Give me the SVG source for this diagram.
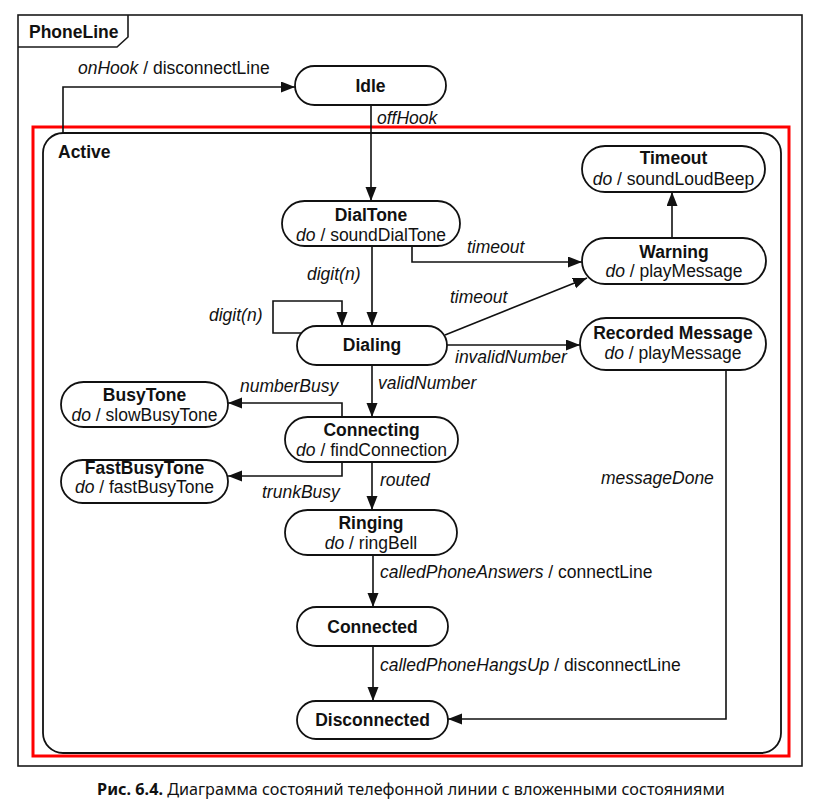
<svg xmlns="http://www.w3.org/2000/svg" width="813" height="811" viewBox="0 0 813 811">
  <style>
    .frame { fill: none; stroke: #1a1a1a; stroke-width: 1.6; }
    .hl { fill: none; stroke: #ff0000; stroke-width: 3; }
    .state { fill: #ffffff; stroke: #111111; stroke-width: 1.8; }
    .conn { fill: none; stroke: #111111; stroke-width: 1.6; }
    text { font-family: "Liberation Sans", Arial, sans-serif; font-size: 17.5px; fill: #111111; }
    .name { font-weight: bold; text-anchor: middle; }
    .act { text-anchor: middle; }
    .lbl { font-style: italic; }
    .caption { font-family: "Noto Sans", "DejaVu Sans", sans-serif; font-size: 16.2px; text-anchor: middle; }
  </style>
  <defs>
    <marker id="arrow" markerUnits="userSpaceOnUse" markerWidth="15" markerHeight="12" refX="14" refY="5.5" orient="auto">
      <path d="M0,0 L14,5.5 L0,11 z" fill="#111111"/>
    </marker>
  </defs>

  <rect width="813" height="811" fill="#ffffff"/>

  <!-- outer state machine frame with name tab -->
  <g id="phoneline">
    <rect class="frame" x="18" y="15" width="784" height="751"/>
    <path class="frame" d="M18,47 L117,47 L128,37 L128,15"/>
    <text x="29" y="38" style="font-weight:bold">PhoneLine</text>
  </g>

  <!-- highlight around the composite state -->
  <rect class="hl" x="33" y="127" width="756" height="629"/>

  <!-- composite state -->
  <g id="active">
    <rect class="state" x="43" y="133" width="738" height="620" rx="20" ry="20"/>
    <text x="58" y="158" style="font-weight:bold">Active</text>
  </g>

  <!-- connectors -->
  <g id="connectors">
    <path class="conn" d="M63,133 L63,87 L295,87" marker-end="url(#arrow)"/>
    <text class="lbl" x="78" y="74">onHook<tspan style="font-style:normal"> / disconnectLine</tspan></text>

    <path class="conn" d="M371,105 L371,201" marker-end="url(#arrow)"/>
    <text class="lbl" x="377" y="124">offHook</text>

    <path class="conn" d="M372,246 L372,326" marker-end="url(#arrow)"/>
    <text class="lbl" x="307" y="280">digit(n)</text>

    <path class="conn" d="M302,333 L273,333 L273,301 L342,301 L342,326" marker-end="url(#arrow)"/>
    <text class="lbl" x="209" y="321">digit(n)</text>

    <path class="conn" d="M412,246 L412,262 L582,262" marker-end="url(#arrow)"/>
    <text class="lbl" x="467" y="253">timeout</text>

    <path class="conn" d="M445,335 L587,278" marker-end="url(#arrow)"/>
    <text class="lbl" x="450" y="303">timeout</text>

    <path class="conn" d="M446,345 L580,345" marker-end="url(#arrow)"/>
    <text class="lbl" x="455" y="363">invalidNumber</text>

    <path class="conn" d="M672,238 L672,192" marker-end="url(#arrow)"/>

    <path class="conn" d="M372,365 L372,417" marker-end="url(#arrow)"/>
    <text class="lbl" x="378" y="389">validNumber</text>

    <path class="conn" d="M342,417 L342,403 L228,403" marker-end="url(#arrow)"/>
    <text class="lbl" x="240" y="392">numberBusy</text>

    <path class="conn" d="M342,462 L342,476 L228,476" marker-end="url(#arrow)"/>
    <text class="lbl" x="262" y="498">trunkBusy</text>

    <path class="conn" d="M372,462 L372,510" marker-end="url(#arrow)"/>
    <text class="lbl" x="380" y="486">routed</text>

    <path class="conn" d="M373,555 L373,607" marker-end="url(#arrow)"/>
    <text class="lbl" x="380" y="578">calledPhoneAnswers<tspan style="font-style:normal"> / connectLine</tspan></text>

    <path class="conn" d="M373,646 L373,701" marker-end="url(#arrow)"/>
    <text class="lbl" x="380" y="671">calledPhoneHangsUp<tspan style="font-style:normal"> / disconnectLine</tspan></text>

    <path class="conn" d="M726,370 L726,719 L448,719" marker-end="url(#arrow)"/>
    <text class="lbl" x="601" y="484">messageDone</text>
  </g>

  <!-- states -->
  <g id="idle">
    <rect class="state" x="295" y="66" width="151" height="39" rx="19.5"/>
    <text class="name" x="370.5" y="92">Idle</text>
  </g>

  <g id="dialtone">
    <rect class="state" x="282" y="201" width="178" height="45" rx="22.5"/>
    <text class="name" x="371" y="221">DialTone</text>
    <text class="act" x="371" y="241"><tspan style="font-style:italic">do</tspan> / soundDialTone</text>
  </g>

  <g id="timeout">
    <rect class="state" x="582" y="146" width="183" height="46" rx="23"/>
    <text class="name" x="673.5" y="164">Timeout</text>
    <text class="act" x="673.5" y="185"><tspan style="font-style:italic">do</tspan> / soundLoudBeep</text>
  </g>

  <g id="warning">
    <rect class="state" x="582" y="238" width="184" height="46" rx="23"/>
    <text class="name" x="674" y="258">Warning</text>
    <text class="act" x="674" y="277"><tspan style="font-style:italic">do</tspan> / playMessage</text>
  </g>

  <g id="dialing">
    <rect class="state" x="297" y="326" width="150" height="39" rx="19.5"/>
    <text class="name" x="372" y="351">Dialing</text>
  </g>

  <g id="recordedmessage">
    <rect class="state" x="580" y="318" width="186" height="52" rx="26"/>
    <text class="name" x="673" y="339">Recorded Message</text>
    <text class="act" x="673" y="359"><tspan style="font-style:italic">do</tspan> / playMessage</text>
  </g>

  <g id="busytone">
    <rect class="state" x="61" y="382" width="167" height="45" rx="22.5"/>
    <text class="name" x="144.5" y="401">BusyTone</text>
    <text class="act" x="144.5" y="421"><tspan style="font-style:italic">do</tspan> / slowBusyTone</text>
  </g>

  <g id="connecting">
    <rect class="state" x="285" y="417" width="173" height="45" rx="22.5"/>
    <text class="name" x="371.5" y="436">Connecting</text>
    <text class="act" x="371.5" y="456"><tspan style="font-style:italic">do</tspan> / findConnection</text>
  </g>

  <g id="fastbusytone">
    <rect class="state" x="61" y="460" width="167" height="43" rx="21.5"/>
    <text class="name" x="144.5" y="474">FastBusyTone</text>
    <text class="act" x="144.5" y="493"><tspan style="font-style:italic">do</tspan> / fastBusyTone</text>
  </g>

  <g id="ringing">
    <rect class="state" x="285" y="510" width="172" height="45" rx="22.5"/>
    <text class="name" x="371" y="529">Ringing</text>
    <text class="act" x="371" y="549"><tspan style="font-style:italic">do</tspan> / ringBell</text>
  </g>

  <g id="connected">
    <rect class="state" x="297" y="607" width="151" height="39" rx="19.5"/>
    <text class="name" x="372.5" y="633">Connected</text>
  </g>

  <g id="disconnected">
    <rect class="state" x="297" y="701" width="151" height="38" rx="19"/>
    <text class="name" x="372.5" y="726">Disconnected</text>
  </g>

  <!-- figure caption -->
  <text class="caption" x="411" y="795"><tspan style="font-weight:bold">Рис. 6.4.</tspan> Диаграмма состояний телефонной линии с вложенными состояниями</text>
</svg>
